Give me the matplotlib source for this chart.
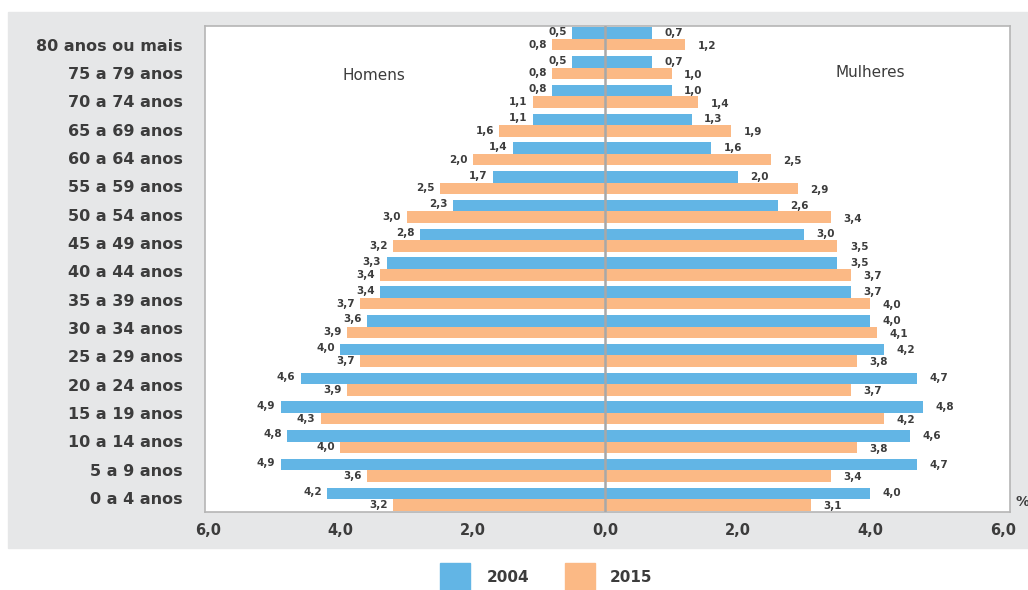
import matplotlib

matplotlib.use('Agg')
import matplotlib.pyplot as plt
import numpy as np
from matplotlib.patches import Rectangle

# Age groups, from oldest (top) to youngest (bottom)
age_groups = [
    '80 anos ou mais', '75 a 79 anos', '70 a 74 anos', '65 a 69 anos',
    '60 a 64 anos', '55 a 59 anos', '50 a 54 anos', '45 a 49 anos',
    '40 a 44 anos', '35 a 39 anos', '30 a 34 anos', '25 a 29 anos',
    '20 a 24 anos', '15 a 19 anos', '10 a 14 anos', '5 a 9 anos', '0 a 4 anos',
]
men_2004 = [0.5, 0.5, 0.8, 1.1, 1.4, 1.7, 2.3, 2.8, 3.3, 3.4, 3.6, 4.0, 4.6, 4.9, 4.8, 4.9, 4.2]
men_2015 = [0.8, 0.8, 1.1, 1.6, 2.0, 2.5, 3.0, 3.2, 3.4, 3.7, 3.9, 3.7, 3.9, 4.3, 4.0, 3.6, 3.2]
women_2004 = [0.7, 0.7, 1.0, 1.3, 1.6, 2.0, 2.6, 3.0, 3.5, 3.7, 4.0, 4.2, 4.7, 4.8, 4.6, 4.7, 4.0]
women_2015 = [1.2, 1.0, 1.4, 1.9, 2.5, 2.9, 3.4, 3.5, 3.7, 4.0, 4.1, 3.8, 3.7, 4.2, 3.8, 3.4, 3.1]
x_ticks = [-6, -4, -2, 0, 2, 4, 6]
x_tick_labels = ['6,0', '4,0', '2,0', '0,0', '2,0', '4,0', '6,0']
years = ['2004', '2015']

BLUE = '#62b5e5'
ORANGE = '#fbb985'
PANEL = '#e6e7e8'
TEXT = '#3c3c3c'


def fmt(v):
    return f'{v:.1f}'.replace('.', ',')


fig = plt.figure(figsize=(10.28, 5.9), dpi=100)
W, H = 1028, 590

# Gray background panel (behind the axes)
fig.patches.append(Rectangle((8 / W, 1 - 548 / H), 1 - 8 / W, (548 - 12) / H,
                             transform=fig.transFigure, color=PANEL, zorder=-5))

ax = fig.add_axes([205 / W, 1 - 512 / H, (1010 - 205) / W, (512 - 26) / H])
ax.set_zorder(1)
ax.set_facecolor('white')

n = len(age_groups)
y = np.arange(n)[::-1]  # top row gets highest y
h = 0.4

ax.barh(y + 0.2, [-v for v in men_2004], height=h, color=BLUE, zorder=2)
ax.barh(y - 0.2, [-v for v in men_2015], height=h, color=ORANGE, zorder=2)
ax.barh(y + 0.2, women_2004, height=h, color=BLUE, zorder=2)
ax.barh(y - 0.2, women_2015, height=h, color=ORANGE, zorder=2)

ax.axvline(0, color='#a8a8a8', lw=1.8, zorder=3)

# Value labels
lbl = dict(fontsize=7.5, fontweight='bold', color=TEXT, va='center')
for i in range(n):
    ax.annotate(fmt(men_2004[i]), (-men_2004[i], y[i] + 0.25), xytext=(-4, 0),
                textcoords='offset points', ha='right', **lbl)
    ax.annotate(fmt(men_2015[i]), (-men_2015[i], y[i] - 0.2), xytext=(-4, 0),
                textcoords='offset points', ha='right', **lbl)
    ax.annotate(fmt(women_2004[i]), (women_2004[i], y[i] + 0.2), xytext=(9, 0),
                textcoords='offset points', ha='left', **lbl)
    ax.annotate(fmt(women_2015[i]), (women_2015[i], y[i] - 0.25), xytext=(9, 0),
                textcoords='offset points', ha='left', **lbl)

ax.set_xlim(-6.045, 6.106)
ax.set_ylim(-0.45, 16.45)
ax.set_xticks(x_ticks)
ax.set_xticklabels(x_tick_labels, fontsize=10.5, fontweight='bold', color=TEXT)
# category labels are spaced a bit tighter than the bars in the original
ax.set_yticks(0.04 + y * 0.985)
ax.set_yticklabels(age_groups, fontsize=11.5, fontweight='bold', color=TEXT)
ax.tick_params(length=0, pad=8)
ax.tick_params(axis='y', pad=16)
for s in ax.spines.values():
    s.set_color('#b5b5b5')
    s.set_linewidth(1.2)

ax.text(-3.5, 14.74, 'Homens', fontsize=11, color=TEXT, ha='center', va='center')
ax.text(4.0, 14.85, 'Mulheres', fontsize=11, color=TEXT, ha='center', va='center')
fig.text(1022 / W, 1 - 502 / H, '%', fontsize=10, fontweight='bold', color=TEXT,
         ha='center', va='center')

# Legend
for x0, col, txt, tx in [(440, BLUE, years[0], 487), (565, ORANGE, years[1], 610)]:
    fig.patches.append(Rectangle((x0 / W, 0), 30 / W, 27 / H,
                                 transform=fig.transFigure, color=col))
    fig.text(tx / W, 1 - 577 / H, txt, fontsize=11, fontweight='bold',
             color=TEXT, ha='left', va='center')

fig.savefig('out.png', dpi=100)
